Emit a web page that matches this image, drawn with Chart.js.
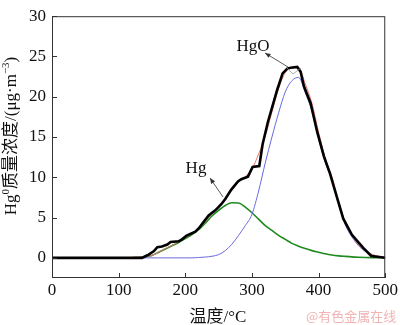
<!DOCTYPE html>
<html><head><meta charset="utf-8">
<script src="https://cdn.jsdelivr.net/npm/chart.js@4"></script>
<style>html,body{margin:0;padding:0;background:#fff}#wrap{width:400px;height:325px}</style>
</head><body><div id="wrap"><canvas id="c" width="400" height="325"></canvas></div>
<script>
// Fitted curves sampled every 10 °C
const fitTemps = [0,10,20,30,40,50,60,70,80,90,100,110,120,130,140,150,160,170,180,190,200,210,220,230,240,250,260,270,280,290,300,310,320,330,340,350,360,370,380,390,400,410,420,430,440,450,460,470,480,490,500];
const hgFit =   [0,0,0,0,0,0,0,0,0,0,0,0,0.02,0.05,0.15,0.3,0.7,1.1,1.5,1.9,2.4,2.9,3.5,4.3,5.2,5.9,6.5,6.85,6.8,6.3,5.6,4.8,4.0,3.4,2.8,2.3,1.8,1.45,1.15,0.9,0.7,0.5,0.35,0.25,0.18,0.12,0.08,0.05,0.03,0.02,0];
const hgoFit =  [0,0,0,0,0,0,0,0,0,0,0,0,0,0,0,0,0,0,0,0,0,0,0.05,0.1,0.2,0.4,0.9,1.7,2.8,4.0,5.4,8.3,11.8,15.0,18.0,20.6,22.0,22.4,20.5,18.2,14.8,11.8,9.7,6.7,4.1,2.6,1.5,0.8,0.35,0.1,0];
const sumFit =  [0,0,0,0,0,0,0,0,0,0,0,0.02,0.05,0.1,0.15,0.3,0.7,1.15,1.55,2.0,2.5,3.0,3.6,4.5,5.5,6.4,7.4,8.4,9.4,10.1,11.0,12.9,15.1,18.1,21.0,23.0,23.6,23.6,21.6,19.2,15.6,12.4,10.1,7.0,4.4,2.8,1.6,0.9,0.45,0.2,0.1];
// Measured curve
const measTemps = [0,135,140,145,153,158,165,173,178,190,195,202,215,220,235,245,254,260,269,279,284,294,301,311,316,324,331,338,346,353,358,368,373,378,388,398,408,417,427,437,450,467,479,497,500];
const measVals  = [0,0,0.2,0.4,0.84,1.33,1.4,1.65,1.97,2.05,2.3,2.77,3.25,3.65,5.26,5.9,6.66,7.3,8.47,9.48,9.76,10.08,11.29,11.4,14.1,16.9,18.9,20.9,22.9,23.5,23.6,23.7,23.1,21.3,19.2,15.6,12.6,10.5,7.67,4.86,2.86,1.24,0.24,0.04,0];
const xTicks = [0,100,200,300,400,500];
const yTicks = [0,5,10,15,20,25,30];

const SERIF = "'Liberation Serif','Times New Roman',serif";
const CJK = "'Liberation Serif','Noto Sans CJK SC',serif";
const pts = (xs, ys) => xs.map((x,i)=>({x:x, y:ys[i]}));

function arrow(ctx, x1, y1, x2, y2) {
  ctx.beginPath(); ctx.moveTo(x1,y1); ctx.lineTo(x2,y2); ctx.stroke();
  const a = Math.atan2(y2-y1, x2-x1), L = 6, w = 0.4;
  ctx.beginPath(); ctx.moveTo(x2,y2);
  ctx.lineTo(x2 - L*Math.cos(a-w), y2 - L*Math.sin(a-w));
  ctx.lineTo(x2 - L*Math.cos(a+w), y2 - L*Math.sin(a+w));
  ctx.closePath(); ctx.fill();
}

const deco = {
  id: 'deco',
  afterDraw(chart) {
    const ctx = chart.ctx, a = chart.chartArea, xs = chart.scales.x, ys = chart.scales.y;
    ctx.save();
    ctx.strokeStyle = '#333'; ctx.lineWidth = 1;
    ctx.strokeRect(a.left+0.5, a.top+0.5, a.right-a.left-1, a.bottom-a.top-1);
    ctx.beginPath();
    xTicks.forEach(v => { const p = Math.round(xs.getPixelForValue(v))+0.5; ctx.moveTo(p, a.bottom); ctx.lineTo(p, a.bottom-5); });
    yTicks.forEach(v => { const p = Math.round(ys.getPixelForValue(v))+0.5; ctx.moveTo(a.left, p); ctx.lineTo(a.left+5, p); });
    ctx.stroke();
    // x title
    ctx.fillStyle = '#111'; ctx.textBaseline = 'alphabetic'; ctx.textAlign = 'center';
    ctx.font = "17px " + CJK;
    ctx.fillText('温度/°C', 218, 322);
    // y title (rotated, with super-scripts)
    ctx.save();
    ctx.translate(16, 136); ctx.rotate(-Math.PI/2);
    const parts = [['Hg',17,0,SERIF],['0',11,-7,SERIF],['质量浓度',17,0,CJK],['/(μg·m',17,0,SERIF],['−3',11,-7,SERIF],[')',17,0,SERIF]];
    let total = 0;
    parts.forEach(p => { ctx.font = p[1]+'px '+p[3]; total += ctx.measureText(p[0]).width; });
    let x = -total/2; ctx.textAlign = 'left';
    parts.forEach(p => { ctx.font = p[1]+'px '+p[3]; ctx.fillText(p[0], x, p[2]); x += ctx.measureText(p[0]).width; });
    ctx.restore();
    // annotations
    ctx.font = "17px " + SERIF; ctx.textAlign = 'center'; ctx.fillStyle = '#111';
    ctx.fillText('HgO', 253, 51);
    ctx.fillText('Hg', 196, 173);
    ctx.strokeStyle = '#333'; ctx.fillStyle = '#333'; ctx.lineWidth = 0.8;
    arrow(ctx, 288, 67, 265, 53);
    arrow(ctx, 223, 197, 210, 178);
    ctx.strokeStyle = '#999';
    ctx.beginPath(); ctx.moveTo(287,68); ctx.lineTo(293,74); ctx.lineTo(301,68); ctx.stroke();
    // watermark
    ctx.font = "13px 'Noto Sans CJK SC'"; ctx.fillStyle = '#f0b4b4'; ctx.textAlign = 'left';
    ctx.fillText('@有色金属在线', 306, 321);
    ctx.restore();
  }
};

new Chart(document.getElementById('c'), {
  type: 'line',
  data: { datasets: [
    { label: 'measured', data: pts(measTemps, measVals), borderColor: '#000', borderWidth: 2.6, pointRadius: 0, tension: 0, order: 0 },
    { label: 'fit', data: pts(fitTemps, sumFit), borderColor: '#e8776f', borderWidth: 1, pointRadius: 0, cubicInterpolationMode: 'monotone', order: 1 },
    { label: 'HgO', data: pts(fitTemps, hgoFit), borderColor: '#6a6adc', borderWidth: 1, pointRadius: 0, cubicInterpolationMode: 'monotone', order: 2 },
    { label: 'Hg', data: pts(fitTemps, hgFit), borderColor: '#1f8a1f', borderWidth: 1.6, pointRadius: 0, cubicInterpolationMode: 'monotone', order: 3 }
  ]},
  options: {
    responsive: false, animation: false, devicePixelRatio: 1,
    layout: { padding: { left: 0, right: 11, top: 6, bottom: 0 } },
    plugins: { legend: { display: false }, tooltip: { enabled: false } },
    scales: {
      x: { type: 'linear', min: 0, max: 500,
        afterBuildTicks: s => { s.ticks = xTicks.map(v => ({value: v})); },
        afterFit: s => { s.height = 47; },
        grid: { display: false, drawTicks: false }, border: { display: false },
        ticks: { padding: 2, color: '#111', font: { family: SERIF, size: 17 }, maxRotation: 0 } },
      y: { min: -2.5, max: 30,
        afterBuildTicks: s => { s.ticks = yTicks.map(v => ({value: v})); },
        afterFit: s => { s.width = 52; },
        grid: { display: false, drawTicks: false }, border: { display: false },
        ticks: { padding: 6, color: '#111', font: { family: SERIF, size: 17 } } }
    }
  },
  plugins: [deco]
});
</script></body></html>
